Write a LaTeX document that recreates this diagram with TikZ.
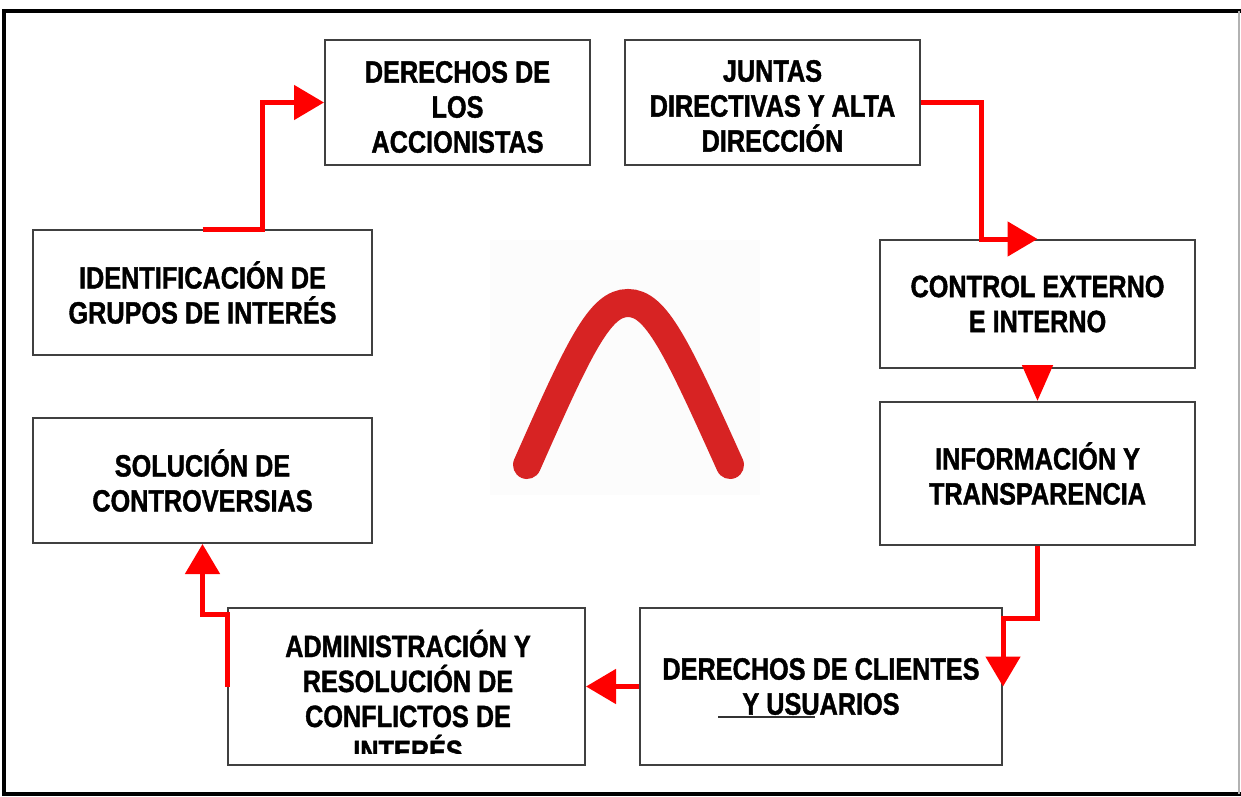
\documentclass[tikz,border=0pt]{standalone}
\usepackage{fontspec}
\newfontfamily\boxfont[FakeStretch=0.82,FakeBold=1.3]{Liberation Sans}
\usetikzlibrary{arrows.meta}
\definecolor{boomred}{RGB}{215,35,35}

\begin{document}
\begin{tikzpicture}[x=0.5pt,y=-0.5pt,
	box/.style={draw=black!75,line width=1pt,inner sep=0pt,align=center,
		font=\boxfont\bfseries\fontsize{15.4}{17.5}\selectfont},
	boxtext/.style={inner sep=0pt,align=center,
		font=\boxfont\bfseries\fontsize{15.4}{17.5}\selectfont},
	flow/.style={draw=red,line width=2.5pt,-{Triangle[length=15pt,width=17pt]}}]
	\useasboundingbox (0,0) rectangle (1241,797);
	% marco
	\draw[line width=2pt] (1241,11) -- (4,11) -- (4,794) -- (1241,794);
	\draw[black!30,line width=0.6pt] (1239,11) -- (1239,794);
	% cajas
	\node[box,minimum width=132.5pt,minimum height=62.5pt] (accionistas) at (457.5,102.5) {};
	\node[boxtext] (accionistastext) at (457.5,107)
		{DERECHOS DE\\LOS\\ACCIONISTAS};
	\node[box,minimum width=147.5pt,minimum height=62.5pt] (juntas) at (772.5,102.5) {};
	\node[boxtext] (juntastext) at (772.5,106)
		{JUNTAS\\DIRECTIVAS Y ALTA\\DIRECCIÓN};
	\node[box,minimum width=157.5pt,minimum height=64pt] (control) at (1037.5,304)
		{CONTROL EXTERNO\\E INTERNO};
	\node[box,minimum width=157.5pt,minimum height=71.5pt] (informacion) at (1037.5,473.5)
		{INFORMACIÓN Y\\TRANSPARENCIA};
	\node[box,minimum width=181pt,minimum height=78.5pt] (clientes) at (821,686.5)
		{DERECHOS DE CLIENTES\\Y USUARIOS};
	\node[box,minimum width=178.5pt,minimum height=78.5pt] (admin) at (406.5,686.5) {};
	\node[box,minimum width=169.5pt,minimum height=62.5pt] (solucion) at (202.5,480.5)
		{SOLUCIÓN DE\\CONTROVERSIAS};
	\node[box,minimum width=169.5pt,minimum height=62.5pt] (grupos) at (202.5,292.5)
		{IDENTIFICACIÓN DE\\GRUPOS DE INTERÉS};
	\begin{scope}
		\clip (admin.north west) rectangle ([yshift=6.5pt]admin.south east);
		\node[boxtext] (admintext) at (408,696)
			{ADMINISTRACIÓN Y\\RESOLUCIÓN DE\\CONFLICTOS DE\\INTERÉS};
	\end{scope}
	\draw[black!80,line width=1pt] (718,717) -- (815,717);
	% boomerang
	\fill[black!1] (490,240) rectangle (760,495);
	\draw[boomred,line width=14pt,line cap=round]
		(527,465) .. controls (580,345) and (600,303) .. (628,303)
		.. controls (656,303) and (676,345) .. (730,465);
	% flechas
	\draw[flow] (grupos.north) -- ++(60,0) |- (accionistas.west);
	\draw[flow] (juntas.east) -- ++(60,0) |- (control.north);
	\draw[flow,-{Triangle[length=18pt,width=15pt]}] (control.south) -- (informacion.north);
	\draw[flow] (informacion.south) -- ++(0,72) -| (clientes.east);
	\draw[flow] (clientes.west) -- (admin.east);
	\draw[flow] (admin.west) -- ++(0,-72) -| (solucion.south);
\end{tikzpicture}
\end{document}
